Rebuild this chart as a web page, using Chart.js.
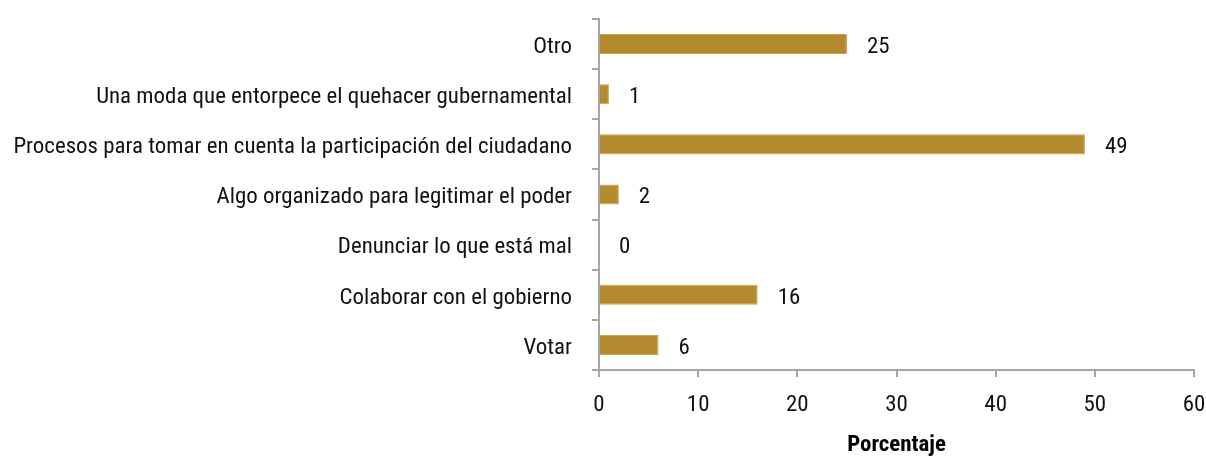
<!DOCTYPE html>
<html>
<head>
<meta charset="utf-8">
<script src="https://cdn.jsdelivr.net/npm/chart.js@4.4.1/dist/chart.umd.min.js"></script>
<style>
  html, body { margin: 0; padding: 0; background: #fff; }
  #wrap { width: 1206px; height: 459px; }
</style>
</head>
<body>
<div id="wrap"><canvas id="chart"></canvas></div>
<script>
// survey answers, top to bottom
const categories = [
  'Otro',
  'Una moda que entorpece el quehacer gubernamental',
  'Procesos para tomar en cuenta la participación del ciudadano',
  'Algo organizado para legitimar el poder',
  'Denunciar lo que está mal',
  'Colaborar con el gobierno',
  'Votar'
];
const percentages = [25, 1, 49, 2, 0, 16, 6];
const xTicks = [0, 10, 20, 30, 40, 50, 60];

const FONT = '"Roboto Condensed", "DejaVu Sans Condensed", sans-serif';
const barColor = '#b38b2e';
const barEdge = '#c9a24a';
const axisColor = '#a6a6a6';
const textColor = '#111';

// category font size: as large as possible while the longest answer fits its column
const probe = document.createElement('canvas').getContext('2d');
probe.font = '24px ' + FONT;
const longest = Math.max(...categories.map(c => probe.measureText(c).width));
const catSize = Math.min(25, Math.floor(24 * 560 / longest * 10) / 10);

// value text to the right of each bar
const valueLabels = {
  id: 'valueLabels',
  afterDatasetsDraw(chart) {
    const ctx = chart.ctx;
    const meta = chart.getDatasetMeta(0);
    ctx.save();
    ctx.font = catSize + 'px ' + FONT;
    ctx.fillStyle = textColor;
    ctx.textAlign = 'left';
    ctx.textBaseline = 'middle';
    meta.data.forEach((bar, i) => {
      ctx.fillText(String(percentages[i]), bar.x + 20, bar.y + 3);
    });
    ctx.restore();
  }
};

// drop the label overhang padding so layout.padding alone places the plot area
function noOverhang(scale) {
  scale.paddingTop = 0;
  scale.paddingBottom = 0;
  scale.paddingLeft = 0;
  scale.paddingRight = 0;
}

new Chart(document.getElementById('chart'), {
  type: 'bar',
  data: {
    labels: categories,
    datasets: [{
      data: percentages,
      backgroundColor: barColor,
      borderColor: barEdge,
      borderWidth: 1,
      barPercentage: 0.4,
      categoryPercentage: 1
    }]
  },
  options: {
    indexAxis: 'y',
    responsive: true,
    maintainAspectRatio: false,
    animation: false,
    layout: { padding: { top: 19, right: 12, left: 0, bottom: 0 } },
    plugins: { legend: { display: false }, tooltip: { enabled: false } },
    scales: {
      x: {
        min: 0,
        max: 60,
        afterBuildTicks(scale) { scale.ticks = xTicks.map(v => ({ value: v })); },
        afterFit(scale) { scale.height = 89; noOverhang(scale); },
        grid: { drawOnChartArea: false, drawTicks: true, tickLength: 7, color: axisColor, lineWidth: 2 },
        border: { color: axisColor, width: 2 },
        ticks: { color: textColor, font: { family: FONT, size: catSize }, padding: 15, maxRotation: 0 },
        title: {
          display: true,
          text: 'Porcentaje',
          color: '#000',
          font: { family: FONT, size: catSize, weight: 'bold' },
          padding: { top: 0, bottom: 0 }
        }
      },
      y: {
        afterFit(scale) { scale.width = 599; noOverhang(scale); },
        grid: { drawOnChartArea: false, drawTicks: true, tickLength: 7, color: axisColor, lineWidth: 2, offset: true },
        border: { color: axisColor, width: 2 },
        ticks: { color: textColor, font: { family: FONT, size: catSize }, padding: 20, labelOffset: 3, autoSkip: false }
      }
    }
  },
  plugins: [valueLabels]
});
</script>
</body>
</html>
